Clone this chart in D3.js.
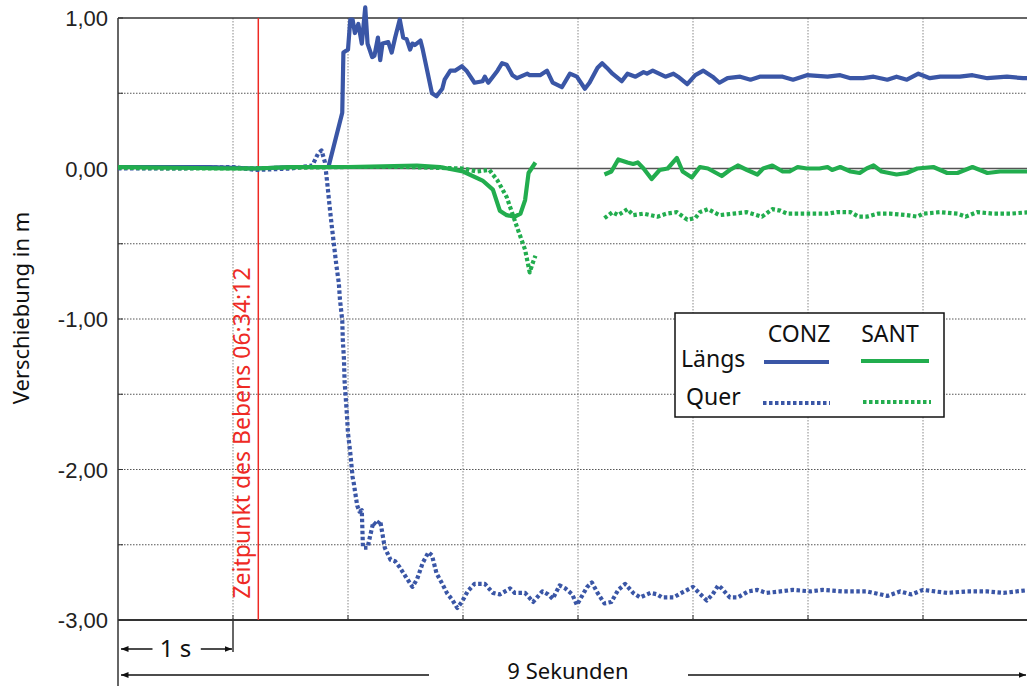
<!DOCTYPE html>
<html lang="de">
<head>
<meta charset="UTF-8">
<title>Verschiebung CONZ / SANT</title>
<script src="https://d3js.org/d3.v7.min.js"></script>
<style>
  body { margin: 0; background: #fff; }
  svg { display: block; }
  .num { font-family: "Liberation Sans", Arial, sans-serif; }
  .lbl { font-family: "Noto Sans", "Open Sans", sans-serif; }
</style>
</head>
<body>
<div id="chart"></div>
<script>
// time in seconds, displacement in m
const conzLaengs = [
  [0.00, 0.01], [0.40, 0.01], [0.80, 0.01], [1.20, 0.00], [1.50, 0.01], [1.80, 0.01], [1.83, 0.01],
  [1.95, 0.37], [1.96, 0.77], [2.00, 0.79], [2.02, 0.99], [2.04, 0.99], [2.06, 0.90], [2.09, 0.96],
  [2.12, 0.83], [2.15, 1.07], [2.17, 0.83], [2.21, 0.74], [2.23, 0.75], [2.26, 0.87], [2.28, 0.72],
  [2.30, 0.83], [2.35, 0.84], [2.38, 0.77], [2.41, 0.87], [2.45, 0.99], [2.48, 0.87], [2.51, 0.86],
  [2.54, 0.79], [2.56, 0.83], [2.58, 0.82], [2.63, 0.85], [2.65, 0.79], [2.73, 0.50], [2.77, 0.48],
  [2.82, 0.53], [2.84, 0.59], [2.89, 0.65], [2.93, 0.65], [2.99, 0.68], [3.03, 0.65], [3.10, 0.57],
  [3.17, 0.58], [3.19, 0.61], [3.22, 0.57], [3.30, 0.65], [3.34, 0.70], [3.38, 0.69], [3.43, 0.62],
  [3.47, 0.60], [3.56, 0.63], [3.58, 0.62], [3.63, 0.62], [3.67, 0.62], [3.73, 0.65], [3.78, 0.57],
  [3.86, 0.54], [3.93, 0.63], [3.99, 0.61], [4.06, 0.53], [4.10, 0.57], [4.17, 0.67], [4.21, 0.70],
  [4.25, 0.67], [4.30, 0.63], [4.38, 0.58], [4.43, 0.63], [4.50, 0.61], [4.57, 0.64], [4.60, 0.63],
  [4.65, 0.65], [4.76, 0.61], [4.83, 0.63], [4.87, 0.61], [4.95, 0.56], [5.02, 0.62], [5.09, 0.65],
  [5.17, 0.61], [5.23, 0.57], [5.30, 0.60], [5.41, 0.61], [5.50, 0.59], [5.58, 0.61], [5.78, 0.61],
  [5.87, 0.59], [5.99, 0.62], [6.17, 0.61], [6.28, 0.62], [6.37, 0.60], [6.48, 0.60], [6.57, 0.61],
  [6.69, 0.59], [6.77, 0.61], [6.86, 0.59], [6.96, 0.63], [7.06, 0.60], [7.15, 0.61], [7.32, 0.61],
  [7.43, 0.62], [7.56, 0.60], [7.73, 0.61], [7.87, 0.60], [7.93, 0.60]
];

const conzQuer = [
  [0.00, 0.00], [0.50, 0.00], [1.00, 0.01], [1.20, -0.01], [1.50, 0.00], [1.69, 0.02], [1.74, 0.10],
  [1.77, 0.12], [1.80, 0.04], [1.82, -0.10], [1.84, -0.25], [1.86, -0.39], [1.88, -0.52], [1.90, -0.65],
  [1.92, -0.76], [1.93, -0.87], [1.95, -1.01], [1.955, -1.14], [1.965, -1.27], [1.97, -1.41],
  [1.98, -1.52], [1.99, -1.63], [2.00, -1.76], [2.02, -1.89], [2.04, -2.05], [2.05, -2.09],
  [2.08, -2.24], [2.10, -2.28], [2.12, -2.27], [2.13, -2.52], [2.17, -2.52], [2.19, -2.45],
  [2.22, -2.35], [2.25, -2.37], [2.28, -2.34], [2.32, -2.52], [2.37, -2.60], [2.41, -2.61],
  [2.45, -2.65], [2.50, -2.71], [2.56, -2.78], [2.60, -2.73], [2.65, -2.62], [2.70, -2.55],
  [2.73, -2.57], [2.77, -2.69], [2.82, -2.76], [2.86, -2.82], [2.91, -2.87], [2.95, -2.92],
  [2.99, -2.88], [3.04, -2.81], [3.10, -2.76], [3.19, -2.76], [3.26, -2.82], [3.32, -2.83],
  [3.41, -2.79], [3.45, -2.82], [3.54, -2.82], [3.61, -2.88], [3.69, -2.81], [3.74, -2.83],
  [3.78, -2.86], [3.84, -2.77], [3.89, -2.79], [3.95, -2.83], [3.99, -2.90], [4.08, -2.78],
  [4.12, -2.75], [4.17, -2.82], [4.23, -2.89], [4.29, -2.88], [4.35, -2.80], [4.41, -2.76],
  [4.48, -2.82], [4.54, -2.85], [4.63, -2.82], [4.69, -2.83], [4.73, -2.85], [4.83, -2.85],
  [4.90, -2.82], [5.00, -2.78], [5.08, -2.84], [5.12, -2.87], [5.17, -2.83], [5.22, -2.77],
  [5.25, -2.79], [5.32, -2.85], [5.39, -2.85], [5.48, -2.81], [5.56, -2.80], [5.64, -2.82],
  [5.76, -2.81], [5.87, -2.80], [6.02, -2.81], [6.13, -2.80], [6.30, -2.81], [6.51, -2.81],
  [6.69, -2.84], [6.80, -2.81], [6.90, -2.83], [7.00, -2.80], [7.21, -2.82], [7.38, -2.81],
  [7.56, -2.81], [7.70, -2.82], [7.93, -2.80]
];

const santLaengs = [
  [0.00, 0.01], [0.50, 0.005], [1.00, 0.00], [1.20, 0.00], [1.50, 0.01], [2.00, 0.01], [2.60, 0.02],
  [2.80, 0.01], [3.00, -0.02], [3.17, -0.08], [3.26, -0.14], [3.32, -0.28], [3.38, -0.31],
  [3.45, -0.32], [3.50, -0.30], [3.54, -0.21], [3.57, -0.03], [3.63, 0.04],
  [3.90, null],
  [4.23, -0.04], [4.29, -0.02], [4.35, 0.06], [4.43, 0.04], [4.48, 0.03], [4.52, 0.04], [4.57, 0.00],
  [4.64, -0.07], [4.71, -0.01], [4.78, 0.00], [4.86, 0.07], [4.91, -0.02], [4.99, -0.06], [5.06, 0.01],
  [5.13, 0.00], [5.25, -0.05], [5.32, -0.01], [5.39, 0.02], [5.47, -0.01], [5.56, -0.04], [5.61, 0.00],
  [5.69, 0.02], [5.78, -0.02], [5.84, -0.02], [5.91, 0.01], [5.99, 0.00], [6.10, 0.00], [6.17, 0.01],
  [6.21, -0.01], [6.28, 0.01], [6.37, -0.02], [6.45, -0.03], [6.51, 0.00], [6.57, 0.02], [6.64, -0.02],
  [6.77, -0.04], [6.86, -0.03], [6.95, 0.00], [7.09, 0.01], [7.21, -0.03], [7.30, -0.03], [7.43, 0.01],
  [7.56, -0.03], [7.67, -0.02], [7.93, -0.02]
];

const santQuer = [
  [0.00, 0.005], [0.50, 0.00], [1.00, 0.00], [1.50, 0.005], [2.00, 0.01], [2.50, 0.01], [3.00, 0.00],
  [3.12, -0.02], [3.23, -0.01], [3.30, -0.08], [3.38, -0.19], [3.47, -0.39], [3.54, -0.54],
  [3.58, -0.69], [3.61, -0.62], [3.63, -0.58],
  [3.90, null],
  [4.23, -0.33], [4.30, -0.29], [4.35, -0.31], [4.43, -0.27], [4.48, -0.31], [4.57, -0.30],
  [4.69, -0.32], [4.77, -0.30], [4.86, -0.29], [4.95, -0.34], [5.02, -0.33], [5.06, -0.29],
  [5.13, -0.27], [5.23, -0.31], [5.35, -0.30], [5.47, -0.29], [5.60, -0.32], [5.69, -0.27],
  [5.76, -0.28], [5.82, -0.30], [5.93, -0.30], [6.02, -0.30], [6.17, -0.30], [6.25, -0.29],
  [6.37, -0.29], [6.44, -0.32], [6.51, -0.32], [6.61, -0.30], [6.71, -0.30], [6.86, -0.31],
  [6.95, -0.32], [7.00, -0.30], [7.15, -0.29], [7.30, -0.30], [7.37, -0.32], [7.47, -0.29],
  [7.61, -0.30], [7.76, -0.30], [7.93, -0.29]
];

const yTickValues = [1, 0, -1, -2, -3];
const yGridValues = [1, 0.5, 0, -0.5, -1, -1.5, -2, -2.5, -3];
const xGridValues = [1, 2, 3, 4, 5, 6, 7, 8];
const quakeTime = 1.22;

const BLUE = "#3a56a6";
const GREEN = "#22ad4e";

const W = 1027, H = 686;
const mLeft = 118, mTop = 18, mBottom = 620;

const svg = d3.select("#chart").append("svg")
  .attr("width", W).attr("height", H);

const x = d3.scaleLinear().domain([0, 9]).range([mLeft, mLeft + 9 * 115]);
const y = d3.scaleLinear().domain([-3, 1]).range([mBottom, mTop]);

// grid
const grid = svg.append("g");
grid.selectAll(".hg").data(yGridValues.filter(d => d !== 0 && d !== 1 && d !== -3))
  .join("line")
  .attr("x1", mLeft).attr("x2", W)
  .attr("y1", d => y(d)).attr("y2", d => y(d))
  .attr("stroke", "#555").attr("stroke-width", 1).attr("stroke-dasharray", "1.5,1.5");
grid.selectAll(".vg").data(xGridValues)
  .join("line")
  .attr("x1", d => x(d)).attr("x2", d => x(d))
  .attr("y1", mTop).attr("y2", mBottom)
  .attr("stroke", "#888").attr("stroke-width", 1).attr("stroke-dasharray", "1.5,1.5");

// zero line
svg.append("line")
  .attr("x1", mLeft).attr("x2", W)
  .attr("y1", y(0)).attr("y2", y(0))
  .attr("stroke", "#555").attr("stroke-width", 1.5);

// frame
svg.append("line").attr("x1", mLeft).attr("x2", W).attr("y1", mTop).attr("y2", mTop)
  .attr("stroke", "#333").attr("stroke-width", 1.5);
svg.append("line").attr("x1", mLeft).attr("x2", W).attr("y1", mBottom).attr("y2", mBottom)
  .attr("stroke", "#333").attr("stroke-width", 2);
svg.append("line").attr("x1", mLeft).attr("x2", mLeft).attr("y1", mTop).attr("y2", H)
  .attr("stroke", "#333").attr("stroke-width", 1.5);

// inner ticks
svg.append("g").selectAll("line").data(yGridValues).join("line")
  .attr("x1", mLeft).attr("x2", mLeft + 5)
  .attr("y1", d => y(d)).attr("y2", d => y(d))
  .attr("stroke", "#333").attr("stroke-width", 1);
svg.append("g").selectAll("line").data(xGridValues).join("line")
  .attr("x1", d => x(d)).attr("x2", d => x(d))
  .attr("y1", mBottom).attr("y2", mBottom - 5)
  .attr("stroke", "#333").attr("stroke-width", 1);

// y labels
svg.append("g").selectAll("text").data(yTickValues).join("text")
  .attr("class", "num")
  .attr("x", 108).attr("y", d => y(d) + 8)
  .attr("text-anchor", "end")
  .attr("font-size", 22)
  .attr("fill", "#222")
  .text(d => d3.format(".2f")(d).replace(".", ",").replace("−", "-"));

svg.append("text")
  .attr("class", "lbl")
  .attr("transform", "translate(29,308) rotate(-90)")
  .attr("text-anchor", "middle")
  .attr("font-size", 22)
  .attr("fill", "#111")
  .text("Verschiebung in m");

// earthquake marker
svg.append("line")
  .attr("x1", x(quakeTime)).attr("x2", x(quakeTime))
  .attr("y1", mTop).attr("y2", mBottom)
  .attr("stroke", "#ee2a24").attr("stroke-width", 1.5);
svg.append("text")
  .attr("class", "lbl")
  .attr("transform", `translate(${x(quakeTime) - 8},433) rotate(-90)`)
  .attr("text-anchor", "middle")
  .attr("font-size", 23)
  .attr("fill", "#ee2a24")
  .text("Zeitpunkt des Bebens 06:34:12");

// series
const line = d3.line()
  .defined(d => d[1] !== null)
  .x(d => x(d[0])).y(d => y(d[1]));

const series = [
  { data: conzLaengs, color: BLUE, dash: null },
  { data: conzQuer, color: BLUE, dash: "3.5,2.5" },
  { data: santLaengs, color: GREEN, dash: null },
  { data: santQuer, color: GREEN, dash: "3.5,2.5" }
];

svg.append("clipPath").attr("id", "clip")
  .append("rect").attr("x", mLeft).attr("y", 0).attr("width", W - mLeft).attr("height", H);

svg.append("g").attr("clip-path", "url(#clip)")
  .selectAll("path").data(series).join("path")
  .attr("d", d => line(d.data))
  .attr("fill", "none")
  .attr("stroke", d => d.color)
  .attr("stroke-width", 4.2)
  .attr("stroke-linejoin", "round")
  .attr("stroke-dasharray", d => d.dash);

// legend
const lg = svg.append("g");
lg.append("rect").attr("x", 675).attr("y", 313).attr("width", 269).attr("height", 104)
  .attr("fill", "#fff").attr("stroke", "#111").attr("stroke-width", 1.5);
lg.append("text").attr("class", "lbl").attr("x", 799).attr("y", 342)
  .attr("text-anchor", "middle").attr("font-size", 23).attr("fill", "#111").text("CONZ");
lg.append("text").attr("class", "lbl").attr("x", 890).attr("y", 342)
  .attr("text-anchor", "middle").attr("font-size", 23).attr("fill", "#111").text("SANT");
lg.append("text").attr("class", "lbl").attr("x", 681).attr("y", 367)
  .attr("font-size", 23).attr("fill", "#111").text("Längs");
lg.append("text").attr("class", "lbl").attr("x", 686).attr("y", 405)
  .attr("font-size", 23).attr("fill", "#111").text("Quer");
const legendRows = [
  { x1: 764, x2: 829, y: 362, color: BLUE, dash: null },
  { x1: 861, x2: 929, y: 361, color: GREEN, dash: null },
  { x1: 763, x2: 830, y: 403, color: BLUE, dash: "3.5,2.5" },
  { x1: 863, x2: 931, y: 402, color: GREEN, dash: "3.5,2.5" }
];
lg.selectAll("line").data(legendRows).join("line")
  .attr("x1", d => d.x1).attr("x2", d => d.x2)
  .attr("y1", d => d.y).attr("y2", d => d.y)
  .attr("stroke", d => d.color).attr("stroke-width", 4)
  .attr("stroke-dasharray", d => d.dash);

// time arrows
const defs = svg.append("defs");
defs.append("marker").attr("id", "ah")
  .attr("viewBox", "0 0 10 10").attr("refX", 10).attr("refY", 5)
  .attr("markerWidth", 5).attr("markerHeight", 5).attr("orient", "auto-start-reverse")
  .append("path").attr("d", "M0,1 L10,5 L0,9 Z").attr("fill", "#111");

svg.append("line").attr("x1", x(1)).attr("x2", x(1)).attr("y1", mBottom).attr("y2", 652)
  .attr("stroke", "#333").attr("stroke-width", 1.5);

const arrow = (x1, x2, yy, start, end) => svg.append("line")
  .attr("x1", x1).attr("x2", x2).attr("y1", yy).attr("y2", yy)
  .attr("stroke", "#111").attr("stroke-width", 1.5)
  .attr("marker-start", start ? "url(#ah)" : null)
  .attr("marker-end", end ? "url(#ah)" : null);

arrow(x(0) + 3, x(0.3), 649, true, false);
arrow(x(0.72), x(1) - 1, 649, false, true);
svg.append("text").attr("class", "lbl").attr("x", x(0.5)).attr("y", 657)
  .attr("text-anchor", "middle").attr("font-size", 24).attr("fill", "#111").text("1 s");

arrow(x(0) + 3, 429, 675, true, false);
arrow(688, W - 1, 675, false, true);
svg.append("text").attr("class", "lbl").attr("x", 568).attr("y", 679)
  .attr("text-anchor", "middle").attr("font-size", 22).attr("fill", "#111").text("9 Sekunden");
</script>
</body>
</html>
